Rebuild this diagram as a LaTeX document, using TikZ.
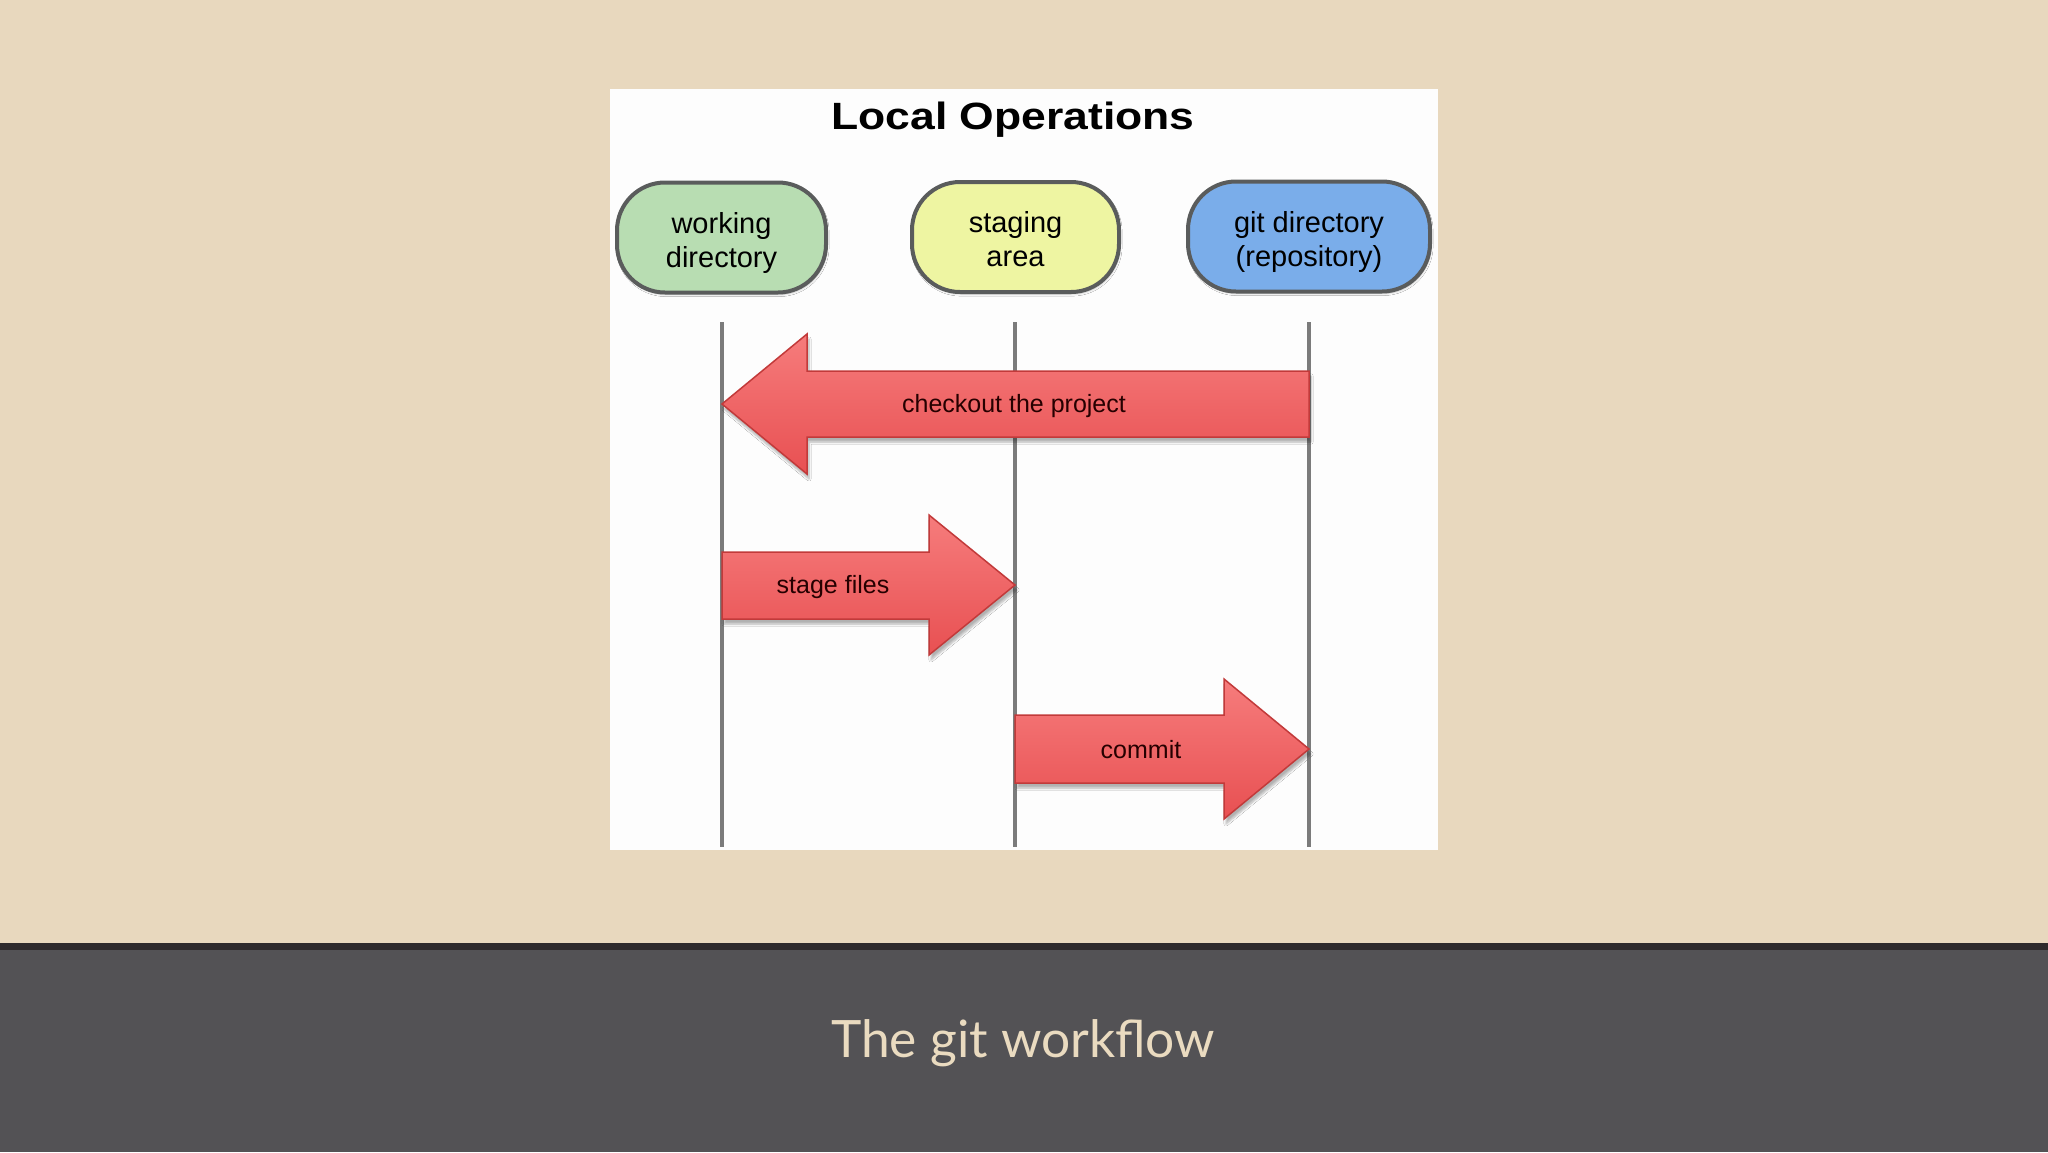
\documentclass[tikz,border=0pt]{standalone}
\usepackage{fontspec}
\setmainfont{Liberation Sans}
\newfontfamily\capfont{Lato}
\usetikzlibrary{shadows.blur,calc}
\definecolor{bg}{HTML}{E8D8BE}
\definecolor{band}{HTML}{535255}
\definecolor{bandline}{HTML}{2E2A2C}
\definecolor{capcol}{HTML}{EADBC0}
\definecolor{panel}{HTML}{FDFDFD}
\definecolor{wdgreen}{HTML}{B8DDB2}
\definecolor{sayellow}{HTML}{EEF5A2}
\definecolor{gdblue}{HTML}{7AADEA}
\definecolor{boxedge}{HTML}{5A5C5C}
\definecolor{lifecol}{HTML}{7B7B7B}
\definecolor{arrowtop}{HTML}{F67C7C}
\definecolor{arrowbot}{HTML}{E85052}
\definecolor{arrowedge}{HTML}{C23A3A}
\newcommand{\boxtext}[1]{\raisebox{-6pt}[\height][\depth]{\begin{tabular}{@{}c@{}}#1\end{tabular}}}
\begin{document}
\begin{tikzpicture}[x=1pt,y=-1pt,
  areabox/.style={draw=boxedge, line width=4pt, rounded corners=48pt,
    minimum height=110pt, align=center, inner sep=0pt,
    font=\fontsize{29}{34}\selectfont,
    blur shadow={shadow xshift=1pt, shadow yshift=-2pt, shadow blur steps=4, shadow opacity=25}},
  lifeline/.style={draw=lifecol, line width=3.5pt},
  bigarrow/.style={draw=arrowedge, line width=1.5pt, top color=arrowtop, bottom color=arrowbot,
    blur shadow={shadow xshift=2pt, shadow yshift=-5pt, shadow blur steps=6, shadow opacity=30}},
  arrowlabel/.style={anchor=base, font=\fontsize{25}{30}\selectfont, text=black!85!red},
]
\useasboundingbox (0,0) rectangle (2048,1152);
% background
\fill[bg] (0,0) rectangle (2048,943);
\fill[bandline] (0,943) rectangle (2048,950);
\fill[band] (0,950) rectangle (2048,1152);
\fill[panel] (610,89) rectangle (1438,850);

% title
\node[anchor=base, font=\bfseries\fontsize{38}{44}\selectfont] (title) at (1013,129)
  {\scalebox{1.17}[1]{Local Operations}};

% area boxes
\node[areabox, fill=wdgreen, minimum width=209pt] (wd) at (721.5,237.5) {\boxtext{working\\directory}};
\node[areabox, fill=sayellow, minimum width=207pt] (sa) at (1015.5,237) {\boxtext{staging\\area}};
\node[areabox, fill=gdblue, minimum width=242pt] (gd) at (1309,236.5) {\boxtext{git directory\\(repository)}};

% lifelines
\coordinate (wtop) at (722,322); \coordinate (wbot) at (722,847);
\coordinate (stop) at (1015,322); \coordinate (sbot) at (1015,847);
\coordinate (gtop) at (1309,322); \coordinate (gbot) at (1309,847);
\draw[lifeline] (wtop) -- (wbot);
\draw[lifeline] (stop) -- (sbot);
\draw[lifeline] (gtop) -- (gbot);

% checkout the project (from git directory to working directory)
\coordinate (cotail) at (gtop |- 0,404);
\coordinate (cotip) at (wtop |- 0,404);
\path[bigarrow] (cotip) -- ($(cotip)+(85,-70)$) -- ($(cotip)+(85,-33)$) -- ($(cotail)+(0,-33)$)
  -- ($(cotail)+(0,33)$) -- ($(cotip)+(85,33)$) -- ($(cotip)+(85,70)$) -- cycle;
\node[arrowlabel] (colabel) at (1014,412) {checkout the project};

% stage files (working directory to staging area)
\coordinate (sftail) at (wtop |- 0,585);
\coordinate (sftip) at (stop |- 0,585);
\path[bigarrow] (sftip) -- ($(sftip)+(-86,-70)$) -- ($(sftip)+(-86,-33)$) -- ($(sftail)+(0,-33)$)
  -- ($(sftail)+(0,34)$) -- ($(sftip)+(-86,34)$) -- ($(sftip)+(-86,70)$) -- cycle;
\node[arrowlabel] (sflabel) at (833,593) {stage files};

% commit (staging area to git directory)
\coordinate (cmtail) at (stop |- 0,749);
\coordinate (cmtip) at (gtop |- 0,749);
\path[bigarrow] (cmtip) -- ($(cmtip)+(-85,-70)$) -- ($(cmtip)+(-85,-34)$) -- ($(cmtail)+(0,-34)$)
  -- ($(cmtail)+(0,34)$) -- ($(cmtip)+(-85,34)$) -- ($(cmtip)+(-85,70)$) -- cycle;
\node[arrowlabel] (cmlabel) at (1141,758) {commit};

% caption
\node[anchor=base, text=capcol, font=\capfont\fontsize{51.5}{60}\selectfont] (caption) at (1023,1057)
  {The git workflow};
\end{tikzpicture}
\end{document}
